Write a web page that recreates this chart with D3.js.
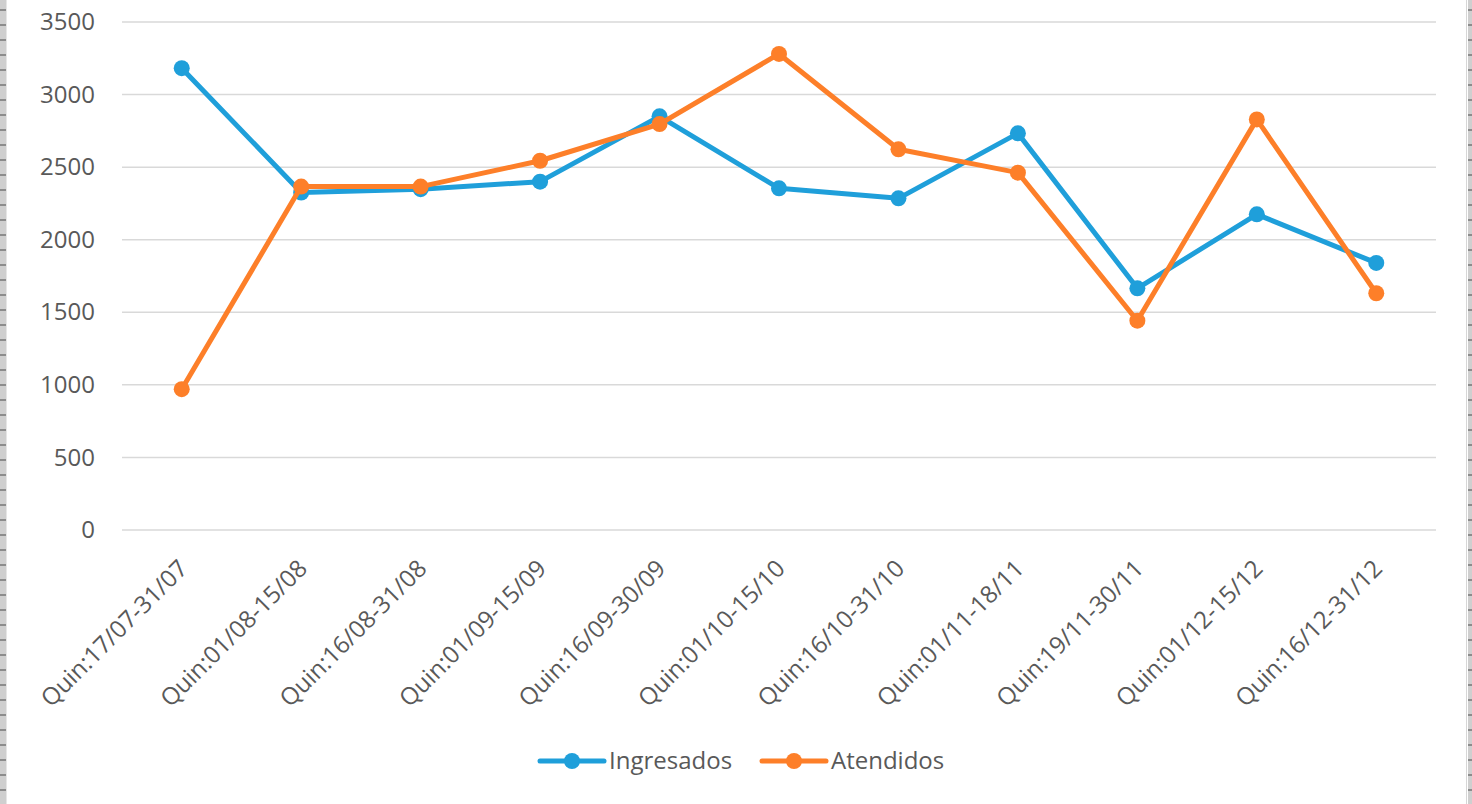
<!DOCTYPE html>
<html lang="es">
<head>
<meta charset="UTF-8">
<title>Ingresados / Atendidos</title>
<script src="https://d3js.org/d3.v7.min.js"></script>
<style>
  body { margin: 0; background: #fff; }
  svg { display: block; }
</style>
</head>
<body>
<svg id="main" width="1472" height="804"></svg>
<script>
// data
const categories = ['Quin:17/07-31/07', 'Quin:01/08-15/08', 'Quin:16/08-31/08', 'Quin:01/09-15/09',
  'Quin:16/09-30/09', 'Quin:01/10-15/10', 'Quin:16/10-31/10', 'Quin:01/11-18/11',
  'Quin:19/11-30/11', 'Quin:01/12-15/12', 'Quin:16/12-31/12'];
const ingresados = [3182, 2325, 2348, 2400, 2850, 2354, 2285, 2733, 1665, 2175, 1840];
const atendidos = [970, 2366, 2366, 2544, 2797, 3280, 2623, 2462, 1442, 2829, 1631];
const seriesNames = ['Ingresados', 'Atendidos'];
const yTicks = [0, 500, 1000, 1500, 2000, 2500, 3000, 3500];

const colors = ['#1f9fda', '#fd7f29'];
const font = '"Open Sans", "Noto Sans", sans-serif';
const textColor = '#595959';

let svg = d3.select('#main');
let W = 1472, H = 804;
let plot = {left: 122, right: 1436, top: 22, bottom: 530};

// dashed frame strips on left/right edges
let defs = svg.append('defs');
let pat = defs.append('pattern')
    .attr('id', 'dash').attr('width', 6).attr('height', 15)
    .attr('patternUnits', 'userSpaceOnUse');
pat.append('rect').attr('width', 6).attr('height', 15).attr('fill', '#cfcfcf');
pat.append('rect').attr('y', 9).attr('width', 6).attr('height', 2).attr('fill', '#8c8c8c');
svg.append('rect').attr('x', 0).attr('y', 0).attr('width', 6).attr('height', H).attr('fill', 'url(#dash)');
svg.append('rect').attr('x', 6).attr('y', 0).attr('width', 1).attr('height', H).attr('fill', '#e6e6e6');
svg.append('rect').attr('x', 1466).attr('y', 0).attr('width', 1).attr('height', H).attr('fill', '#d6d6d6');
svg.append('rect').attr('x', 1468).attr('y', 0).attr('width', 4).attr('height', H).attr('fill', 'url(#dash)');

let x = d3.scalePoint().domain(categories).range([plot.left, plot.right]).padding(0.5);
let y = d3.scaleLinear().domain([0, 3500]).range([plot.bottom, plot.top]);

// gridlines
svg.append('g').selectAll('line')
    .data(yTicks).enter().append('line')
    .attr('x1', plot.left).attr('x2', plot.right)
    .attr('y1', d => y(d)).attr('y2', d => y(d))
    .attr('stroke', '#d9d9d9').attr('stroke-width', 1.5);

// y axis labels
let yAxis = svg.append('g')
    .attr('transform', `translate(${plot.left - 27},0)`)
    .call(d3.axisLeft(y).tickValues(yTicks).tickFormat(d3.format('d')).tickSize(0).tickPadding(0));
yAxis.select('.domain').remove();
yAxis.selectAll('text')
    .attr('font-family', font).attr('font-size', 24).attr('fill', textColor);

// x axis labels, rotated
let xAxis = svg.append('g')
    .attr('transform', `translate(0,${plot.bottom})`)
    .call(d3.axisBottom(x).tickSize(0).tickPadding(0));
xAxis.select('.domain').remove();
xAxis.selectAll('text')
    .attr('font-family', font).attr('font-size', 24).attr('fill', textColor)
    .attr('text-anchor', 'end')
    .attr('dy', 0)
    .attr('transform', 'translate(7,40) rotate(-45)');

// series
let allSeries = [ingresados, atendidos];
let line = d3.line().x((d, i) => x(categories[i])).y(d => y(d));
allSeries.forEach(function(vals, s) {
    let g = svg.append('g');
    g.append('path').datum(vals)
        .attr('d', line)
        .attr('fill', 'none')
        .attr('stroke', colors[s])
        .attr('stroke-width', 5)
        .attr('stroke-linejoin', 'round');
    g.selectAll('circle').data(vals).enter().append('circle')
        .attr('cx', (d, i) => x(categories[i]))
        .attr('cy', d => y(d))
        .attr('r', 8)
        .attr('fill', colors[s]);
});

// legend
let legendX = [540, 762];
let legendY = 761;
let lg = svg.append('g');
seriesNames.forEach(function(name, s) {
    let lx = legendX[s];
    lg.append('line')
        .attr('x1', lx).attr('x2', lx + 64)
        .attr('y1', legendY).attr('y2', legendY)
        .attr('stroke', colors[s]).attr('stroke-width', 5).attr('stroke-linecap', 'round');
    lg.append('circle')
        .attr('cx', lx + 32).attr('cy', legendY).attr('r', 8).attr('fill', colors[s]);
    lg.append('text')
        .attr('x', lx + 69).attr('y', legendY)
        .attr('dy', '0.35em')
        .attr('font-family', font).attr('font-size', 24).attr('fill', textColor)
        .text(name);
});
</script>
</body>
</html>
